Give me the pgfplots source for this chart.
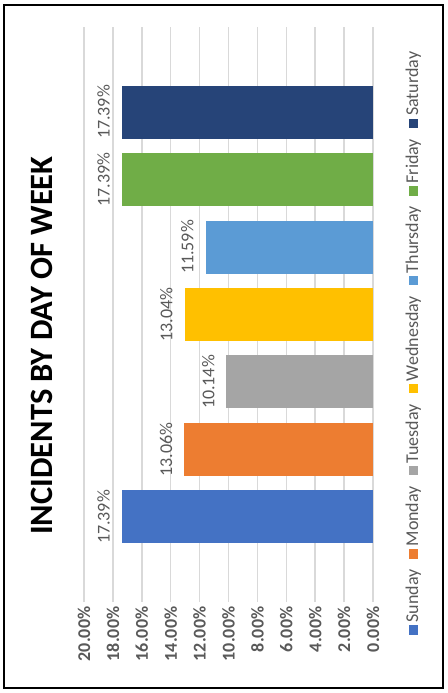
\documentclass[border=0pt]{standalone}
\usepackage{pgfplots}
\pgfplotsset{compat=1.18}
\usepackage{fontspec}
\setmainfont{Carlito}
\definecolor{cSun}{HTML}{4472C4}
\definecolor{cMon}{HTML}{ED7D31}
\definecolor{cTue}{HTML}{A5A5A5}
\definecolor{cWed}{HTML}{FFC000}
\definecolor{cThu}{HTML}{5B9BD5}
\definecolor{cFri}{HTML}{70AD47}
\definecolor{cSat}{HTML}{264478}
\definecolor{txt}{HTML}{595959}
\definecolor{grd}{HTML}{D9D9D9}
\begin{document}
\begin{tikzpicture}[x=1pt,y=1pt]
\path[use as bounding box] (-63,-68.25) rectangle (273,451.5);
\draw[line width=1.9pt] (-60,-64.5) rectangle (269.25,447.75);
\begin{axis}[
  at={(0,0)}, anchor=south west,
  scale only axis, width=216.75pt, height=431.25pt,
  xbar, bar width=39.75pt, bar shift=0pt,
  x dir=reverse,
  xmin=0, xmax=20, ymin=-1.26, ymax=7.26,
  xtick={0,2,...,20},
  xticklabel={\pgfmathprintnumber[fixed,fixed zerofill,precision=2,assume math mode=true]{\tick}\%},
  xticklabel style={rotate=90, anchor=east, font=\fontsize{13.5}{16}\selectfont\bfseries, text=txt},
  ytick=\empty,
  axis line style={draw=none},
  major tick length=0pt,
  xmajorgrids, major grid style={grd, line width=1.1pt},
  point meta=x,
  nodes near coords={\pgfmathprintnumber[fixed,fixed zerofill,precision=2,assume math mode=true]{\pgfplotspointmeta}\%},
  every node near coord/.append style={rotate=90, anchor=south, inner sep=0pt, outer ysep=9pt, font=\fontsize{13.5}{16}\selectfont, text=txt},
  title={INCIDENTS BY DAY OF WEEK},
  title style={at={(-0.145,0.432)}, rotate=90, anchor=center, font=\fontsize{24.4}{28}\selectfont\bfseries},
  legend image code/.code={},
  reverse legend,
  legend columns=1,
  legend style={at={(1.138,0.45)}, anchor=center, draw=none, fill=none, row sep=8pt,
    nodes={rotate=90, inner sep=0pt, font=\fontsize{13.5}{16}\selectfont, text=txt}},
]
\addplot[fill=cSun, draw=none] coordinates {(17.39,0)};
\addlegendentry{\textcolor{cSun}{\rule{7pt}{7pt}}\,Sunday}
\addplot[fill=cMon, draw=none] coordinates {(13.06,1)};
\addlegendentry{\textcolor{cMon}{\rule{7pt}{7pt}}\,Monday}
\addplot[fill=cTue, draw=none] coordinates {(10.14,2)};
\addlegendentry{\textcolor{cTue}{\rule{7pt}{7pt}}\,Tuesday}
\addplot[fill=cWed, draw=none] coordinates {(13.04,3)};
\addlegendentry{\textcolor{cWed}{\rule{7pt}{7pt}}\,Wednesday}
\addplot[fill=cThu, draw=none] coordinates {(11.59,4)};
\addlegendentry{\textcolor{cThu}{\rule{7pt}{7pt}}\,Thursday}
\addplot[fill=cFri, draw=none] coordinates {(17.39,5)};
\addlegendentry{\textcolor{cFri}{\rule{7pt}{7pt}}\,Friday}
\addplot[fill=cSat, draw=none] coordinates {(17.39,6)};
\addlegendentry{\textcolor{cSat}{\rule{7pt}{7pt}}\,Saturday}
\end{axis}
\end{tikzpicture}
\end{document}
